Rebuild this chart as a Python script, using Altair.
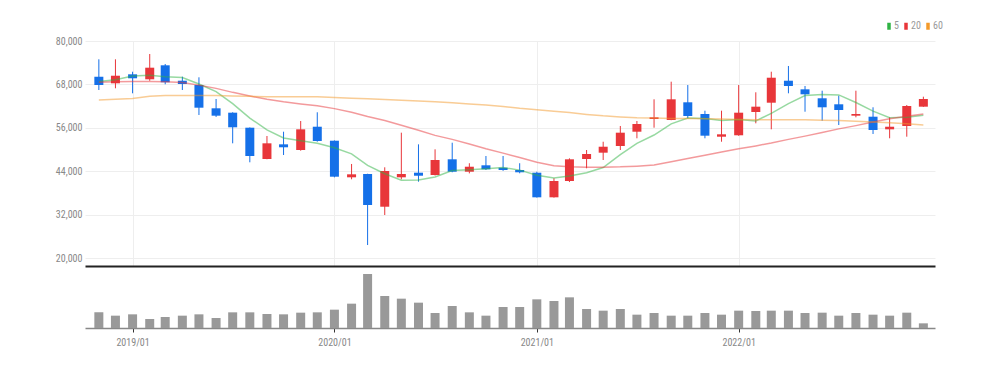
import altair as alt
import pandas as pd

FONT = "Roboto Condensed, Liberation Sans Narrow, Arial Narrow, DejaVu Sans Condensed, sans-serif"
RED = "#e8363a"
BLUE = "#1570e8"

months = pd.date_range("2018-11-01", periods=50, freq="MS")

opens = [70130, 68300, 70790, 69410, 73280, 69020, 67830, 61390, 60180, 56030,
         47370, 51430, 49860, 56300, 52430, 42310, 43230, 34180, 42310, 43590,
         42950, 47290, 43860, 45630, 44970, 44330, 43590, 36780, 41290, 47370,
         49120, 50970, 54920, 58430, 58160, 63050, 59810, 53540, 53930, 60370,
         62940, 69020, 66640, 64160, 62500, 59350, 59070, 55580, 56500, 61840]
highs = [74940, 74940, 71510, 76400, 73640, 70130, 69960, 63960, 60300, 56100,
         53730, 54920, 57880, 60290, 52500, 46000, 43300, 45080, 54650, 51430,
         50050, 51880, 46200, 48200, 48200, 46200, 43860, 42040, 47560, 49860,
         52150, 56500, 57880, 63880, 68750, 67830, 60730, 60730, 67830, 65820,
         71510, 73090, 67560, 66260, 64880, 66260, 61670, 58900, 62300, 64600]
lows = [66450, 66920, 65540, 69000, 68030, 66450, 59540, 59000, 51710, 46460,
        47300, 48480, 49670, 52150, 42300, 41760, 23590, 31890, 41760, 41100,
        42800, 43700, 43400, 44330, 44100, 43420, 36700, 36700, 41000, 44800,
        47100, 49860, 53100, 56030, 58100, 58630, 53100, 52150, 53800, 57240,
        55580, 65540, 60450, 57960, 56770, 58900, 54290, 53100, 53540, 61800]
closes = [67830, 70400, 69690, 72620, 68580, 68110, 61560, 59350, 56140, 48200,
          51710, 50610, 55580, 52350, 42480, 43140, 34650, 44050, 43230, 42750,
          47100, 43860, 45240, 44520, 44330, 43700, 36780, 41290, 47290, 48760,
          50770, 54650, 57050, 58900, 63880, 59260, 53820, 54200, 60180, 61840,
          69850, 67560, 65260, 61670, 60920, 59810, 55390, 56300, 62030, 63960]
ma5 = [68800, 69300, 70300, 70500, 70100, 69900, 68100, 66000, 62700, 58700,
       55400, 53200, 52400, 51700, 50500, 48800, 45600, 43300, 41500, 41600,
       42400, 44200, 44400, 44700, 45000, 44300, 42900, 42100, 42700, 43600,
       45000, 48600, 51700, 54000, 57100, 58700, 58600, 58000, 58300, 57900,
       60000, 62700, 64900, 65200, 65100, 63000, 60600, 58800, 58900, 59500]
ma20 = [68600, 68700, 68800, 68800, 68700, 68500, 67800, 66900, 65800, 64800,
        63900, 63200, 62600, 62100, 61300, 60300, 59100, 58000, 56700, 55300,
        53900, 52800, 51500, 50200, 49000, 47800, 46500, 45500, 45200, 45100,
        45100, 45200, 45400, 45700, 46600, 47500, 48400, 49300, 50200, 51000,
        51800, 52800, 53700, 54700, 55700, 56600, 57600, 58500, 59200, 59800]
ma60 = [63700, 63900, 64100, 64700, 64900, 64900, 64900, 64900, 64800, 64700,
        64600, 64600, 64600, 64600, 64400, 64200, 64000, 63800, 63600, 63400,
        63200, 62900, 62600, 62300, 61900, 61400, 61000, 60600, 60200, 59700,
        59300, 59000, 58800, 58700, 58600, 58600, 58500, 58400, 58300, 58200,
        58200, 58200, 58200, 58100, 58000, 57800, 57600, 57400, 57100, 56800]
volume = [47, 37, 41, 27, 33, 37, 41, 30, 47, 47,
          42, 41, 46, 47, 55, 73, 162, 96, 88, 76,
          45, 66, 47, 37, 63, 63, 86, 81, 92, 57,
          52, 57, 40, 45, 37, 37, 45, 40, 52, 51,
          52, 52, 45, 46, 37, 45, 40, 37, 46, 14]

ma_names = ["5", "20", "60"]
ma_colors = ["#2fb344", "#e8363a", "#f39a2b"]
price_ticks = [20000, 32000, 44000, 56000, 68000, 80000]

df = pd.DataFrame({"date": months, "open": opens, "high": highs, "low": lows,
                   "close": closes, "volume": volume})
df["col"] = [RED if c >= o else BLUE for o, c in zip(opens, closes)]

ma_df = pd.concat([
    pd.DataFrame({"date": months, "series": name, "value": vals})
    for name, vals in zip(ma_names, [ma5, ma20, ma60])
])

x_scale = alt.Scale(domain=[alt.DateTime(year=2018, month=10, date=16),
                            alt.DateTime(year=2022, month=12, date=13)])
year_ticks = [alt.DateTime(year=y, month=1, date=1) for y in (2019, 2020, 2021, 2022)]

price_x = alt.X("date:T", scale=x_scale, title=None,
                axis=alt.Axis(values=year_ticks, grid=True, gridColor="#eeeeee",
                              labels=False, ticks=False, domainColor="#222222",
                              domainWidth=2))
y_scale = alt.Scale(domain=[17790, 80000], nice=False, zero=False)
y_axis = alt.Axis(values=price_ticks, format=",.0f", ticks=False, domain=False,
                  labelPadding=3, gridColor="#eeeeee", labelColor="#888888",
                  labelFontSize=10, labelFont=FONT, minExtent=40, maxExtent=40)

base = alt.Chart(df)
wicks = base.mark_rule(strokeWidth=1).encode(
    x=price_x, y=alt.Y("low:Q", scale=y_scale, title=None, axis=y_axis), y2="high:Q",
    stroke=alt.Stroke("col:N", scale=None))
bodies = base.mark_bar(size=9).encode(
    x=price_x, y=alt.Y("open:Q", scale=y_scale, title=None, axis=y_axis), y2="close:Q",
    fill=alt.Fill("col:N", scale=None))
lines = alt.Chart(ma_df).mark_line(strokeWidth=1.5, strokeOpacity=0.5).encode(
    x=price_x, y=alt.Y("value:Q", scale=y_scale, title=None, axis=y_axis),
    color=alt.Color("series:N", sort=ma_names,
                    scale=alt.Scale(domain=ma_names, range=ma_colors),
                    legend=alt.Legend(title=None, orient="none", legendX=799, legendY=-20,
                                      direction="horizontal", symbolType="M0,-1.4L0,1.4",
                                      symbolSize=25, symbolStrokeWidth=3.5, symbolOpacity=1,
                                      labelFontSize=10, labelColor="#999999",
                                      labelFont=FONT, columnPadding=0, labelOffset=0)))

price = alt.layer(wicks, bodies, lines).properties(width=850, height=225)

vol = alt.Chart(df).mark_bar(size=9, color="#999999").encode(
    x=alt.X("date:T", scale=x_scale, title=None,
            axis=alt.Axis(values=year_ticks, format="%Y/%m", grid=False, tickColor="#333333",
                          tickSize=4, domainColor="#888888", domainWidth=1.5,
                          labelColor="#888888", labelFontSize=10, labelFont=FONT,
                          labelPadding=5)),
    y=alt.Y("volume:Q", scale=alt.Scale(domain=[0, 180]), axis=None),
).properties(width=850, height=60)

chart = alt.vconcat(price, vol, spacing=2).properties(
    padding={"left": 37, "top": 13, "right": 5, "bottom": 5},
).configure_view(stroke=None)

chart.save("out.html", embed_options={"renderer": "svg", "actions": False})
